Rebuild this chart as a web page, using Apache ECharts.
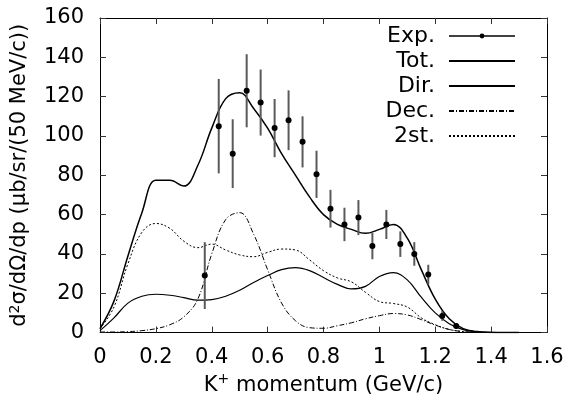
<!DOCTYPE html>
<html>
<head>
<meta charset="utf-8">
<script src="https://cdn.jsdelivr.net/npm/echarts@6/dist/echarts.min.js"></script>
<style>html,body{margin:0;padding:0;background:#fff}#c{width:573px;height:401px}</style>
</head>
<body>
<div id="c"></div>
<script>
// model curve grid (GeV/c)
const gridX = [0,0.05,0.1,0.15,0.2,0.25,0.3,0.35,0.4,0.45,0.5,0.55,0.6,0.65,0.7,0.75,0.8,0.85,0.9,0.95,1.0,1.05,1.1,1.15,1.2,1.25,1.3,1.35,1.4,1.45,1.5];
const totY = [2,16,39,61,77.5,77.5,74.5,85,104,119,122,114,104,91,80,69,60,55,52.5,50.5,52.5,55,48,32,17,7,2,0.5,0.1,0,0];
const dirY = [1,7.5,15,18.5,19.5,19,17.8,16.5,16.8,18.5,21.5,25.5,29,32,33,31.5,28,24.5,22.2,23.5,28.5,30.5,26.8,18,10,4.5,1.5,0.4,0.1,0,0];
const decY = [0.3,0.3,0.5,1,2,4,8,17,40,57.5,61,50,32,15,6,2.5,2.2,3.5,5,7,8.6,9.7,9,6.6,3.8,1.6,0.5,0.1,0,0,0];
const secY = [2,13,35,51,55.5,53,46.5,43.2,45,42,39.5,38.6,40.8,42.5,42,37,31.5,27.8,25.8,20.5,15.8,14.8,13,7.5,4,1.6,0.5,0.1,0,0,0];
// experimental points
const expX = [0.375,0.425,0.475,0.525,0.575,0.625,0.675,0.725,0.775,0.825,0.875,0.925,0.975,1.025,1.075,1.125,1.175,1.225,1.275];
const expY = [29,105,91,123,117,104,108,97,80.5,63,55,58.5,44,55,45,40,29.5,8.5,3.4];
const expErr = [17,24,17.5,18.6,16.8,14.8,15.2,13,12,9.6,8.5,8.9,6.7,7.4,6.5,6,5,2.5,1.5];
const xTicks = {min:0, max:1.6, interval:0.2};
const yTicks = {min:0, max:160, interval:20};
const legendNames = ['Exp.','Tot.','Dir.','Dec.','2st.'];

const FONT = "'DejaVu Sans', Verdana, sans-serif";
const pairs = (xs, ys) => xs.map((x, i) => [x, ys[i]]);
const chart = echarts.init(document.getElementById('c'), null, {renderer:'canvas'});

const axisCommon = {
  axisLine:{show:true, onZero:false, lineStyle:{color:'#000', width:1}},
  axisTick:{show:true, inside:true, length:6, lineStyle:{color:'#333', width:1}},
  splitLine:{show:false}
};

chart.setOption({
  animation:false,
  backgroundColor:'#fff',
  textStyle:{fontFamily:FONT},
  grid:{left:98, right:26, top:18, bottom:65, containLabel:false},
  xAxis:[
    Object.assign({type:'value', position:'bottom', min:xTicks.min, max:xTicks.max, interval:xTicks.interval,
      name:'K{sup|+} momentum (GeV/c)', nameLocation:'middle', nameGap:37,
      nameTextStyle:{fontSize:21, color:'#000', fontFamily:FONT,
        rich:{sup:{fontSize:14, color:'#000', fontFamily:FONT, padding:[0,0,12,0]}}},
      axisLabel:{fontSize:21, color:'#000', margin:14, fontFamily:FONT}}, axisCommon),
    Object.assign({type:'value', position:'top', min:xTicks.min, max:xTicks.max, interval:xTicks.interval,
      axisLabel:{show:false}}, axisCommon)
  ],
  yAxis:[
    Object.assign({type:'value', position:'left', min:yTicks.min, max:yTicks.max, interval:yTicks.interval,
      name:'d{sup|2}σ/dΩ/dp (μb/sr/(50 MeV/c))', nameLocation:'middle', nameGap:68, nameRotate:90,
      nameTextStyle:{fontSize:21, color:'#000', fontFamily:FONT,
        rich:{sup:{fontSize:14, color:'#000', fontFamily:FONT, padding:[0,0,10,0]}}},
      axisLabel:{fontSize:21, color:'#000', margin:16, fontFamily:FONT}}, axisCommon),
    Object.assign({type:'value', position:'right', min:yTicks.min, max:yTicks.max, interval:yTicks.interval,
      axisLabel:{show:false}}, axisCommon)
  ],
  legend:{
    orient:'vertical', right:57, top:25, padding:0, align:'right',
    itemWidth:66, itemHeight:6, itemGap:3, selectedMode:false,
    textStyle:{fontSize:22, color:'#000', fontFamily:FONT, lineHeight:22, padding:[0,9,0,0]},
    data:[
      {name:legendNames[0], lineStyle:{opacity:1, width:1.5, color:'#000'}, itemStyle:{opacity:1, color:'#000'}},
      {name:legendNames[1], itemStyle:{opacity:0}},
      {name:legendNames[2], itemStyle:{opacity:0}},
      {name:legendNames[3], itemStyle:{opacity:0}},
      {name:legendNames[4], itemStyle:{opacity:0}}
    ]
  },
  series:[
    {name:'err', type:'custom', xAxisIndex:0, yAxisIndex:0, z:3,
      data: expX.map((x, i) => [x, expY[i], expErr[i]]),
      encode:{x:0, y:1},
      renderItem:function(params, api){
        const x = api.value(0), y = api.value(1), e = api.value(2);
        const p1 = api.coord([x, y + e]), p2 = api.coord([x, y - e]);
        return {type:'line', shape:{x1:p1[0], y1:p1[1], x2:p2[0], y2:p2[1]},
          style:{stroke:'#5a5a5a', lineWidth:2}};
      }},
    {name:legendNames[0], type:'line', z:4, data:pairs(expX, expY), symbol:'circle', symbolSize:6,
      showSymbol:true, showAllSymbol:true,
      itemStyle:{color:'#000'}, lineStyle:{opacity:0, color:'#000'}},
    {name:legendNames[1], type:'line', z:2, data:pairs(gridX, totY), symbol:'none', smooth:0.4,
      lineStyle:{color:'#000', width:1.5}},
    {name:legendNames[2], type:'line', z:2, data:pairs(gridX, dirY), symbol:'none', smooth:0.4,
      lineStyle:{color:'#000', width:1.2}},
    {name:legendNames[3], type:'line', z:2, data:pairs(gridX, decY), symbol:'none', smooth:0.4,
      lineStyle:{color:'#000', width:1, type:[5,2,1,2]}},
    {name:legendNames[4], type:'line', z:2, data:pairs(gridX, secY), symbol:'none', smooth:0.4,
      lineStyle:{color:'#000', width:1, type:[2,2]}}
  ]
});
</script>
</body>
</html>
